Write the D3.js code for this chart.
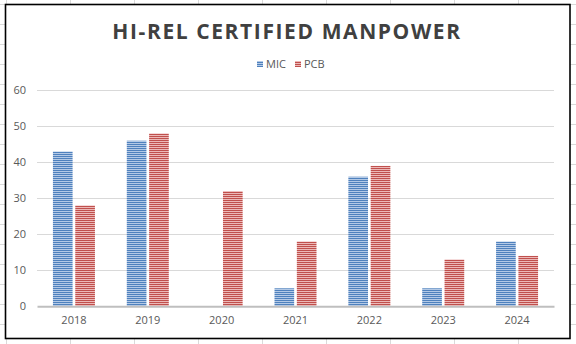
<!DOCTYPE html>
<html><head><meta charset="utf-8">
<script src="https://cdn.jsdelivr.net/npm/d3@7"></script>
<style>html,body{margin:0;padding:0;background:#fff;}svg{display:block;}</style>
</head><body>
<script>
const categories = ["2018","2019","2020","2021","2022","2023","2024"];
const seriesNames = ["MIC","PCB"];
const micValues = [43,46,0,5,36,5,18];
const pcbValues = [28,48,32,18,39,13,14];
const yTicks = [0,10,20,30,40,50,60];
const titleText = "HI-REL CERTIFIED MANPOWER";

const W = 576, H = 344;
const svg = d3.select("body").append("svg").attr("width", W).attr("height", H);
const defs = svg.append("defs");
const colors = {MIC:["#4f81bd","#b3c9e6"], PCB:["#c0504d","#ecb8b7"]};
seriesNames.forEach(s => {
  const p = defs.append("pattern").attr("id","pat"+s).attr("patternUnits","userSpaceOnUse")
    .attr("width",4).attr("height",2);
  p.append("rect").attr("width",4).attr("height",2).attr("fill",colors[s][1]);
  p.append("rect").attr("width",4).attr("height",1).attr("fill",colors[s][0]);
});

// spreadsheet background grid
const bg = svg.append("g");
d3.range(6, W, 64).forEach(x => bg.append("line").attr("x1",x+0.5).attr("x2",x+0.5).attr("y1",0).attr("y2",H).attr("stroke","#dadada"));
d3.range(4, H, 20).forEach(y => bg.append("line").attr("y1",y+0.5).attr("y2",y+0.5).attr("x1",0).attr("x2",W).attr("stroke","#dadada"));

// chart area
svg.append("rect").attr("x",5.5).attr("y",4.5).attr("width",564.5).attr("height",334)
  .attr("fill","#fff").attr("stroke","#000").attr("stroke-width",1.6);

const font = "'Open Sans', 'Liberation Sans', sans-serif";
svg.append("text").attr("x",287).attr("y",39).attr("text-anchor","middle")
  .attr("font-family",font).attr("font-weight","bold").attr("font-size",21)
  .attr("letter-spacing",1.6).attr("fill","#404040").text(titleText);

const x = d3.scaleBand().domain(categories).range([37,554]);
const inner = d3.scaleBand().domain(seriesNames).range([x.bandwidth()/2-21, x.bandwidth()/2+21]).paddingInner(0.12);
const y = d3.scaleLinear().domain([0,60]).range([306.3,90.3]);

// gridlines
svg.append("g").selectAll("line").data(yTicks.filter(t=>t>0)).join("line")
  .attr("x1",37).attr("x2",554).attr("y1",d=>Math.round(y(d))+0.5).attr("y2",d=>Math.round(y(d))+0.5)
  .attr("stroke","#d9d9d9").attr("stroke-width",1);

// y axis labels
const yAxis = d3.axisLeft(y).tickValues(yTicks).tickSize(0).tickPadding(0);
const ya = svg.append("g").attr("transform","translate(26,0)").call(yAxis);
ya.select(".domain").remove();
ya.selectAll("text").attr("font-family",font).attr("font-size",11).attr("fill","#595959");

// bars
const data = categories.map((c,i)=>({cat:c, MIC:micValues[i], PCB:pcbValues[i]}));
const groups = svg.append("g").selectAll("g").data(data).join("g")
  .attr("transform", d=>`translate(${x(d.cat)},0)`);
groups.selectAll("rect").data(d=>seriesNames.map(s=>({s, v:d[s]}))).join("rect")
  .attr("x", d=>inner(d.s)).attr("width", inner.bandwidth())
  .attr("y", d=>y(d.v)).attr("height", d=>y(0)-y(d.v))
  .attr("fill", d=>`url(#pat${d.s})`);

// x axis baseline + labels
const xAxis = d3.axisBottom(x).tickSize(0).tickPadding(10);
const xa = svg.append("g").attr("transform",`translate(0,${y(0)})`).call(xAxis);
xa.select(".domain").attr("stroke","#bfbfbf").attr("stroke-width",2);
xa.selectAll("text").attr("font-family",font).attr("font-size",11).attr("fill","#595959");

// legend
const legend = svg.append("g");
const legX = [257, 295];
seriesNames.forEach((s,i)=>{
  legend.append("rect").attr("x",legX[i]).attr("y",61).attr("width",6).attr("height",6).attr("fill",`url(#pat${s})`);
  legend.append("text").attr("x",legX[i]+9).attr("y",68).attr("font-family",font).attr("font-size",11)
    .attr("fill","#595959").text(s);
});
</script>
</body></html>
